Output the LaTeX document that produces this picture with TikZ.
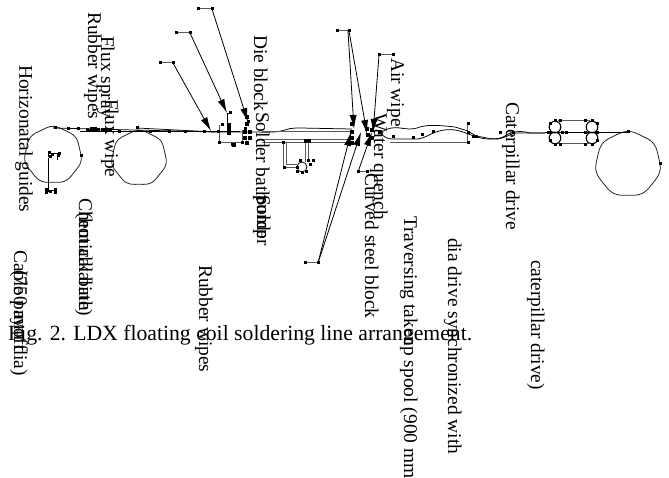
\documentclass[tikz,border=0pt]{standalone}
\usepackage{fontspec}
\setmainfont{Liberation Serif}
\usetikzlibrary{arrows.meta}
\tikzset{
  lbl/.style={rotate=-90,anchor=base west,inner sep=0pt,font=\fontsize{19.4}{20}\selectfont},
  figcap/.style={anchor=base west,inner sep=0pt,font=\fontsize{21.7}{24}\selectfont},
  wire/.style={draw=black,line width=.75pt},
  spool/.style={draw=black!85,line width=.8pt},
  dbl/.style={draw=black!65,line width=1pt},
  lead/.style={draw=black,line width=.8pt},
  leadarrow/.style={lead,-{Latex[length=14pt,width=7pt]}},
  mk/.style={fill=black,draw=none}
}
\newcommand{\sqmarks}[2][3]{\foreach \px/\py in {#2}{\fill[mk] (\px-#1/2,\py-#1/2) rectangle (\px+#1/2,\py+#1/2);}}
\newcommand{\wobblespool}[3]{\draw[spool] plot[smooth cycle,domain=0:350,samples=36] ({#1+(#3+0.7*sin(7*\x))*cos(\x)},{#2+(#3+0.7*sin(7*\x))*sin(\x)});}
\begin{document}
\begin{tikzpicture}[x=1pt,y=-1pt]
\useasboundingbox (0,0) rectangle (669,478);
% spools
\wobblespool{53}{155}{28}
\wobblespool{139}{158}{27}
\wobblespool{628}{164}{32}
% main strip
\draw[wire] (53,128) -- (215,132) -- (240,132) .. controls (270,132) and (275,133) .. (285,130) .. controls (288,129) and (290,128) .. (300,128) -- (352,129);
\draw[wire] (137,128) -- (215,132);
\draw[wire,line width=1pt] (80,132) -- (240,132);
% guides and payoff
\draw[wire] (48,158) -- (48,192);
\draw[wire] (48,157) -- (48,153) -- (57,153) -- (57,160);
\draw[wire] (48,190) -- (55,190);
% rubber wipe tray
\draw[dbl] (219,125) -- (219,143) -- (242,143) -- (242,130);
\draw[wire] (227,125) -- (227,113) -- (230,113);
% solder bath
\draw[dbl] (262,132) -- (352,132);
\draw[dbl] (262,140) -- (350,140);
\draw[dbl] (262,142.5) -- (350,142.5);
\draw[dbl] (283,143) -- (283,168) -- (297,168);
\draw[dbl] (286,143) -- (286,165) -- (297,165);
\draw[dbl] (305,142) -- (305,162);
\draw[dbl] (308,142) -- (308,162);
\draw[wire] (302,167) circle[radius=5];
% after quench: wandering strip
\draw[wire] (380,133) .. controls (388,128) and (392,127) .. (400,128) .. controls (408,129) and (412,130) .. (420,127) .. controls (430,124) and (445,126) .. (455,127) -- (468,131) .. controls (473,134) and (476,137) .. (482,137) .. controls (490,139) and (498,140) .. (505,136) .. controls (510,132) and (520,130) .. (530,133) -- (545,133);
\draw[wire] (380,133) .. controls (384,137) and (388,139) .. (392,139) -- (418,139) .. controls (425,138) and (430,134) .. (436,132) .. controls (445,129) and (455,128) .. (468,134) .. controls (475,136) and (480,139) .. (490,139) -- (498,139) .. controls (505,138) and (510,134) .. (516,133) -- (545,133);
\draw[dbl] (390,142.5) -- (467,142.5);
\draw[dbl] (467,124) -- (467,143);
% caterpillar
\draw[wire,line width=1.1pt] (555,127) circle[radius=5.8];
\draw[wire,line width=1.1pt] (555,138) circle[radius=5.8];
\draw[wire,line width=1.1pt] (592,127) circle[radius=5.8];
\draw[wire,line width=1.1pt] (592,138) circle[radius=5.8];
\draw[dbl] (558,121) -- (590,121);
\draw[dbl] (558,143.5) -- (590,143.5);
\draw[wire] (545,132) -- (628,132);
% leaders
\draw[dbl] (160,63) -- (173,63);
\draw[leadarrow] (173,63) -- (211,131);
\draw[dbl] (176,33) -- (190,33);
\draw[leadarrow] (190,33) -- (227,113);
\draw[dbl] (198,9) -- (212,9);
\draw[leadarrow] (212,9) -- (248,122);
\draw[dbl] (337,31) -- (349,31);
\draw[leadarrow] (348,31) -- (354,129);
\draw[leadarrow] (349,31) -- (367,134);
\draw[dbl] (379,55) -- (393,55);
\draw[leadarrow] (379,55) -- (373,133);
\draw[dbl] (305,263) -- (318,263);
\draw[leadarrow] (318,263) -- (351,132);
\draw[leadarrow] (318,263) -- (361,132);
\draw[dbl] (358,172) -- (367,172);
\draw[leadarrow] (358,172) -- (372,132);
% markers
\sqmarks{160/63,173/63,176/33,190/33,198/9,212/9,337/31,349/31,379/55,393/55,305/263,318/263,358/172,367/172}
\sqmarks{55/128,68/129,78/129,87/130,90/131,93/131,119/132,137/128,150/132,169/132,185/132,204/132,218/132}
\sqmarks[3.8]{92/129,95/129,98/130,103/130,107/130,110/130}
\sqmarks{245/129,248/122,222/125,219/143,232/145,242/143,230/113}
\sqmarks[4.8]{229/125,229/133,229/129,247/117,247/124,245/132,250/132,245/138,250/138,247/143,234/145}
\sqmarks{283/143,305/142,308/142,284/168,297/168,308/161,310/165,300/161,297/172,302/173,306/172,313/161}
\sqmarks[4.4]{306/141,309/141}
\sqmarks[4]{352/124,352/132,352/138,352/143,367/129,368/135,372/130,372/138,380/132}
\sqmarks{393/137,413/138,422/135,433/132,468/124,468/133,468/143,473/137,476/137,500/133,513/133,548/133,566/133,628/132,660/164}
\sqmarks{550/124,555/121,560/121,550/133,550/141,555/145,560/145,562/133,585/121,592/121,597/124,597/133,597/141,592/145,585/145,585/133}
\sqmarks{52/155,50/157,58/156,59/154,49/153,46/190,46/193,50/192,55/193,55/190,81/156}
% labels
\node[lbl] (horiz) at (19.5,65) {Horizonatal guides};
\node[lbl] (rub1) at (88,12) {Rubber wipes};
\node[lbl] (fluxs) at (101,36) {Flux spray};
\node[lbl] (fluxw) at (105,99) {Flux wipe};
\node[lbl] (die) at (254,35) {Die block};
\node[lbl] (sbath) at (256,112) {Solder bath};
\node[lbl] (spu1) at (257,195) {Solder};
\node[lbl] (spu2) at (257,195) {pump};
\node[lbl] (air) at (391,58) {Air wipe};
\node[lbl] (water) at (374,113) {Water quench};
\node[lbl] (curved) at (365,173) {Curved steel block};
\node[lbl] (trav) at (404,216) {Traversing takeup spool (900 mm};
\node[lbl] (dia) at (448,238) {dia drive synchronized with};
\node[lbl] (cat2) at (531,260) {caterpillar drive)};
\node[lbl] (cat1) at (506,102) {Caterpillar drive};
\node[lbl] (rub2) at (199,265) {Rubber wipes};
\node[lbl] (chem1) at (79,198) {Chemical bath};
\node[lbl] (chem2) at (79,212) {(hot alkaline)};
\node[lbl] (cab1) at (14,250) {Cable payoff};
\node[lbl] (cab2) at (14,270) {(750 mm dia)};
\node[figcap] (fig) at (8,340) {Fig. 2. LDX floating coil soldering line arrangement.};
\end{tikzpicture}
\end{document}
